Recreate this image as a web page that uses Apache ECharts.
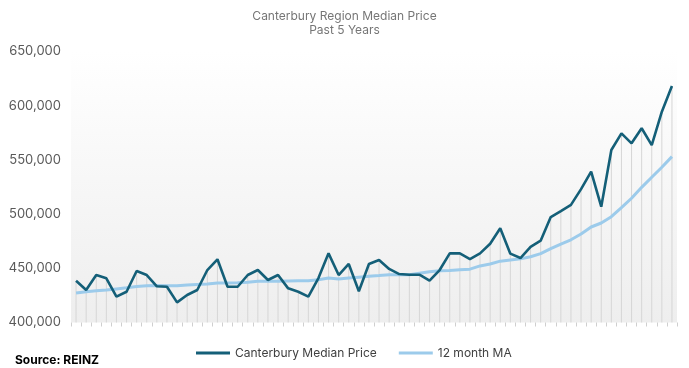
<!DOCTYPE html>
<html>
<head>
<meta charset="utf-8">
<script src="https://cdn.jsdelivr.net/npm/echarts@6/dist/echarts.min.js"></script>
<style>html,body{margin:0;padding:0;background:#fff}#c{width:689px;height:368px}</style>
</head>
<body>
<div id="c"></div>
<script>
// 60 monthly observations (past 5 years)
const months = [];
for (let i = 1; i <= 60; i++) months.push('M' + i);

const medianPrice = [
  438500, 430000, 443800, 440800, 423800, 428400, 447500, 443800, 433400, 433000,
  418600, 425400, 430000, 448400, 458300, 433000, 433000, 443800, 448400, 439200,
  443800, 431500, 428400, 423800, 441000, 463800, 443800, 454000, 428800, 454000,
  457700, 449400, 444700, 444100, 444100, 438600, 448400, 463800, 463800, 458500,
  463800, 472700, 486900, 463500, 459500, 469700, 475500, 497300, 502800, 508500,
  523000, 539100, 506800, 559100, 574500, 565300, 579200, 563700, 594500, 618200
];

const movingAvg12 = [
  427200, 428300, 429200, 430000, 431000, 432000, 433200, 434000, 434200, 434000,
  433800, 434500, 435000, 435500, 436400, 436400, 436600, 437200, 438000, 438000,
  438000, 438300, 438600, 438600, 439500, 441000, 440100, 441000, 441800, 442600,
  443300, 444100, 444100, 444100, 445500, 446900, 447700, 447900, 448700, 449200,
  452200, 454000, 456600, 457700, 458700, 460700, 463500, 468100, 472400, 476300,
  481600, 488100, 491800, 497600, 505900, 514600, 524700, 534000, 543200, 553000
];

const yTicks = { min: 400000, max: 650000, interval: 50000 };

const chart = echarts.init(document.getElementById('c'), null, { renderer: 'canvas' });
chart.setOption({
  animation: false,
  backgroundColor: '#ffffff',
  title: [
    {
      text: 'Canterbury Region Median Price\nPast 5 Years',
      left: 'center', top: 4,
      textStyle: { fontFamily: 'Inter', fontSize: 12, fontWeight: 'normal', color: '#767676', lineHeight: 14 }
    },
    {
      text: 'Source: REINZ',
      left: 10, top: 349,
      textStyle: { fontFamily: 'Inter', fontSize: 12, fontWeight: 'bold', color: '#000000' }
    }
  ],
  legend: {
    bottom: 4, left: 191,
    itemGap: 22,
    itemWidth: 34, itemHeight: 3,
    icon: 'rect',
    data: ['Canterbury Median Price', '12 month MA'],
    textStyle: { fontFamily: 'Inter', fontSize: 12, color: '#404040' }
  },
  grid: {
    left: 71, right: 12, top: 51.5, bottom: 45.5,
    show: true, borderWidth: 0,
    backgroundColor: {
      type: 'linear', x: 0, y: 0, x2: 0, y2: 1,
      colorStops: [
        { offset: 0, color: '#ffffff' },
        { offset: 0.12, color: '#fdfdfd' },
        { offset: 1, color: '#eeeeee' }
      ]
    }
  },
  xAxis: {
    type: 'category',
    data: months,
    boundaryGap: true,
    axisLine: { show: false },
    axisTick: { show: true, interval: 0, length: 4, lineStyle: { color: '#cfcfcf' } },
    axisLabel: { show: false },
    splitLine: { show: false }
  },
  yAxis: {
    type: 'value',
    min: yTicks.min, max: yTicks.max, interval: yTicks.interval,
    axisLine: { show: false },
    axisTick: { show: false },
    splitLine: { show: false },
    axisLabel: {
      fontFamily: 'Inter', fontSize: 13, color: '#595959', margin: 10,
      formatter: v => v.toLocaleString('en-US')
    }
  },
  series: [
    {
      name: 'drop',
      type: 'bar',
      data: medianPrice,
      barWidth: 1,
      itemStyle: { color: '#d6d6d6' },
      silent: true,
      z: 1,
      legendHoverLink: false
    },
    {
      name: '12 month MA',
      type: 'line',
      data: movingAvg12,
      symbol: 'none',
      lineStyle: { color: '#9ccbeb', width: 3 },
      itemStyle: { color: '#9ccbeb' },
      z: 3
    },
    {
      name: 'Canterbury Median Price',
      type: 'line',
      data: medianPrice,
      symbol: 'none',
      lineStyle: { color: '#145f78', width: 2.6 },
      itemStyle: { color: '#145f78' },
      z: 4
    }
  ]
});
</script>
</body>
</html>
